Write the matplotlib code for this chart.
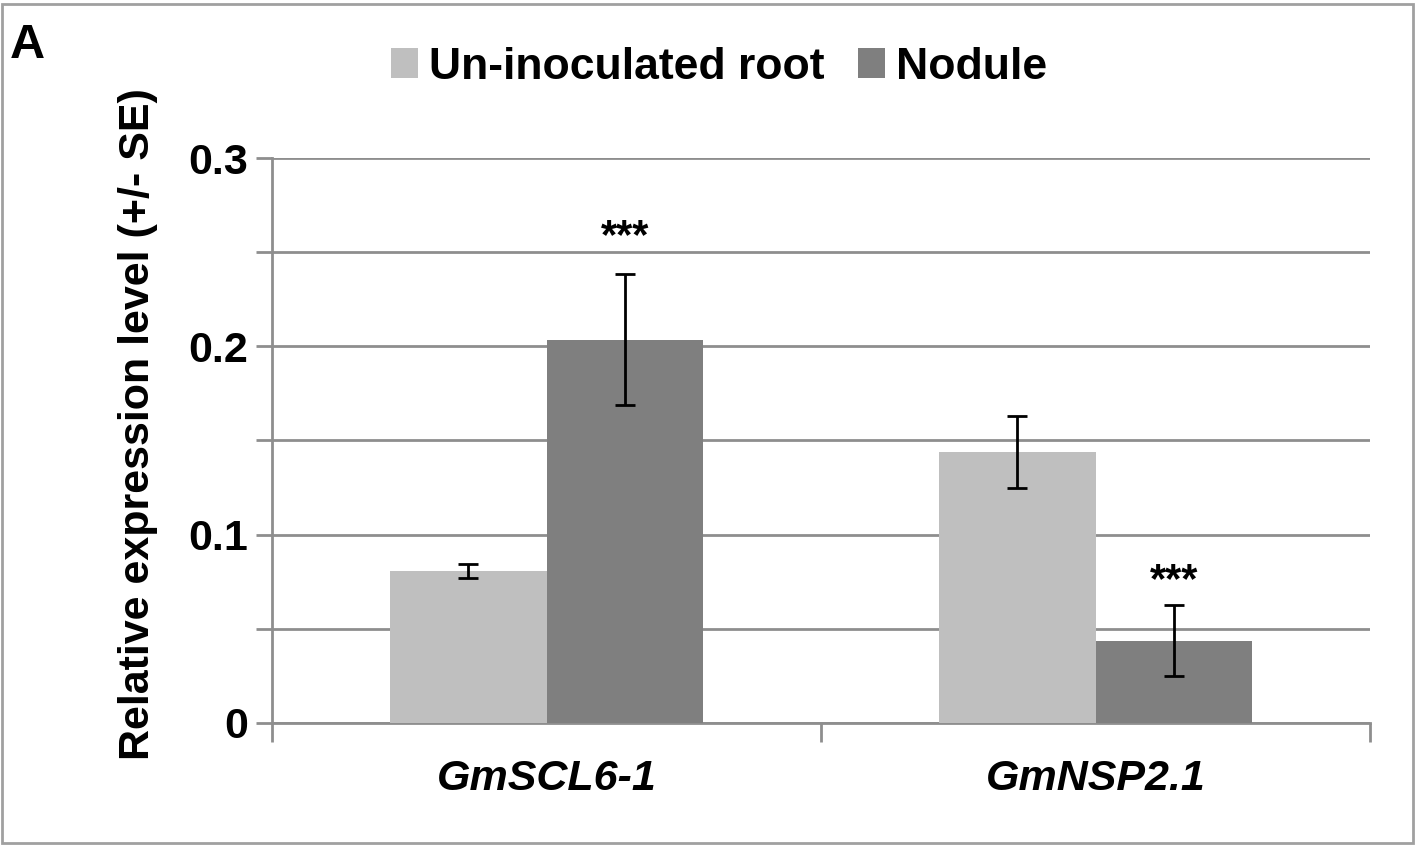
import matplotlib
matplotlib.use("Agg")
import matplotlib.pyplot as plt
import numpy as np
from matplotlib.patches import Rectangle
from matplotlib.ticker import MultipleLocator, FixedLocator

plt.rcParams['font.family'] = ['Liberation Sans', 'DejaVu Sans']

genes = ["GmSCL6-1", "GmNSP2.1"]
series_names = ["Un-inoculated root", "Nodule"]
uninoc = [0.0807, 0.1439]
uninoc_se = [0.0037, 0.019]
nodule = [0.2034, 0.0438]
nodule_se = [0.0348, 0.0188]
significance = ["***", "***"]
star_gap = [0.0140, 0.0070]
yticks = [0, 0.1, 0.2, 0.3]
ytick_labels = ["0", "0.1", "0.2", "0.3"]

light = "#bfbfbf"
dark = "#7f7f7f"
gridc = "#8e8e8e"

W, H = 1417, 846
fig = plt.figure(figsize=(W / 100, H / 100), dpi=100)
ax = fig.add_axes([272 / W, 1 - 723 / H, (1370 - 272) / W, (723 - 158) / H])

x = np.arange(len(genes))
bw = 0.285
ax.bar(x - bw / 2, uninoc, bw, color=light, label=series_names[0], zorder=3)
ax.bar(x + bw / 2, nodule, bw, color=dark, label=series_names[1], zorder=3)
ekw = dict(fmt='none', ecolor='black', elinewidth=2.0, capsize=7.5, capthick=2.0, zorder=4)
ax.errorbar(x - bw / 2, uninoc, yerr=uninoc_se, **ekw)
ax.errorbar(x + bw / 2, nodule, yerr=nodule_se, **ekw)

for xi, v, e, s, g in zip(x, nodule, nodule_se, significance, star_gap):
    ax.text(xi + bw / 2, v + e + g, s, ha='center', va='baseline',
            fontsize=30, fontweight='bold', zorder=5)

ax.set_xlim(-0.5, len(genes) - 0.5)
ax.set_ylim(0, 0.3)

ax.yaxis.set_major_locator(FixedLocator(yticks))
ax.set_yticklabels(ytick_labels, fontsize=31, fontweight='bold')
ax.yaxis.set_minor_locator(MultipleLocator(0.05))
ax.grid(axis='y', which='both', color=gridc, linewidth=2.0, zorder=0)
ax.set_axisbelow(True)
ax.tick_params(axis='y', which='both', length=11.5, width=2.0, color=gridc, pad=6)

ax.set_xticks(x)
ax.set_xticklabels(genes, fontsize=31, fontweight='bold', fontstyle='italic')
ax.xaxis.set_minor_locator(FixedLocator([-0.5, 0.5, 1.5]))
ax.tick_params(axis='x', which='major', length=0, pad=26)
ax.tick_params(axis='x', which='minor', length=14, width=2.0, color=gridc)

for sp in ['top', 'right']:
    ax.spines[sp].set_visible(False)
for sp in ['left', 'bottom']:
    ax.spines[sp].set_color(gridc)
    ax.spines[sp].set_linewidth(2.0)

ax.set_ylabel("Relative expression level (+/- SE)", fontsize=31, fontweight='bold')
ax.yaxis.set_label_coords(-0.104, 0.529)

fig.legend(loc='center', bbox_to_anchor=(719 / W, 1 - 67 / H), ncol=2, frameon=False,
           prop=dict(size=32, weight='bold'), handlelength=0.6, handleheight=0.66,
           handletextpad=0.25, columnspacing=0.75, borderpad=0)

fig.text(10 / W, 1 - 58 / H, "A", fontsize=35, fontweight='bold', ha='left', va='baseline')

fig.patches.append(Rectangle((2 / W, 3 / H), (W - 6) / W, (H - 7) / H, transform=fig.transFigure,
                             fill=False, edgecolor="#a0a0a0", linewidth=2.0))

fig.savefig("out.png", dpi=100)
